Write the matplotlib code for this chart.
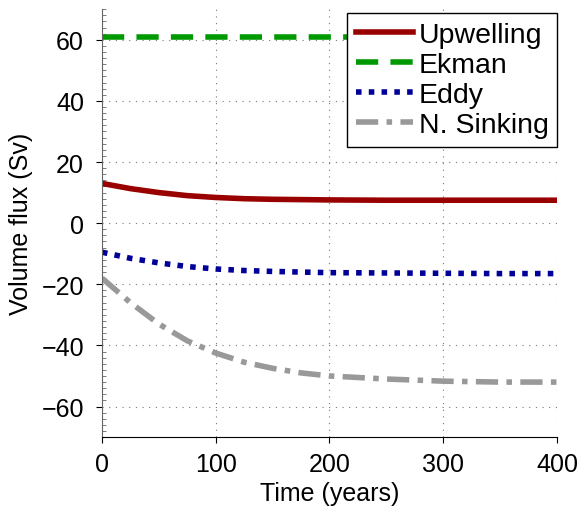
import numpy as np
from matplotlib import pyplot
import matplotlib.ticker as ticker

pyplot.rcParams['font.family'] = ['Liberation Sans', 'DejaVu Sans']

# Values
time = [0, 25, 50, 75, 100, 125, 150, 175, 200, 250, 300, 350, 400]
upwelling = [13, 11.3, 10, 9, 8.4, 8, 7.8, 7.7, 7.6, 7.5, 7.5, 7.5, 7.5]
ekman = [61] * len(time)
eddy = [-9.5, -11.5, -13, -14.2, -15, -15.5, -15.8, -16, -16.2, -16.3, -16.4, -16.5, -16.5]
sinking = [-18, -26, -33, -38.5, -42.5, -45.5, -47.5, -49, -50, -51, -51.7, -52, -52]
labels = ['Upwelling', 'Ekman', 'Eddy', 'N. Sinking']

fig, ax = pyplot.subplots(figsize=(5.81, 5.10), dpi=100)
fig.subplots_adjust(left=0.1755, right=0.9587, top=0.98, bottom=0.141)

ax.plot(time, upwelling, c='#990000', linewidth=4, label=labels[0])
ax.plot(time, ekman, c='#009900', linewidth=4, linestyle=(0, (4, 2.2)), label=labels[1])
ax.plot(time, eddy, c='#000099', linewidth=4, linestyle=(0, (1, 1.3)), label=labels[2])
ax.plot(time, sinking, c='#999999', linewidth=4, linestyle=(0, (4, 1.5, 1, 1.5)), label=labels[3])

ax.axis([0, 400, -70, 70])
ax.xaxis.set_major_locator(ticker.MultipleLocator(100))
ax.yaxis.set_major_locator(ticker.MultipleLocator(20))
ax.yaxis.set_minor_locator(ticker.MultipleLocator(2))
ax.yaxis.set_major_formatter(ticker.FuncFormatter(lambda v, p: f'{v:.0f}'.replace('-', '\u2212')))

ax.spines['top'].set_visible(False)
ax.spines['right'].set_visible(False)
ax.spines['left'].set_color('#666666')
ax.tick_params(which='major', direction='out', length=4, labelsize=18)
ax.tick_params(axis='x', which='major', pad=7)
ax.tick_params(axis='y', which='major', pad=9)
ax.tick_params(axis='y', which='minor', direction='in', length=3, color='#666666')

ax.grid(which='major', color='#777777', linestyle=(0, (1, 5)), linewidth=0.8)

ax.set_xlabel('Time (years)', fontsize=18, labelpad=3)
ax.set_ylabel('Volume flux (Sv)', fontsize=18, labelpad=6)

leg = ax.legend(loc='upper right', fontsize=20.5, handlelength=2, fancybox=False,
                framealpha=1, edgecolor='black', borderaxespad=0,
                labelspacing=0.14, handletextpad=0.2, borderpad=0.3,
                bbox_to_anchor=(1.0, 0.99))
leg.get_frame().set_linewidth(1)

fig.savefig('out.png')
